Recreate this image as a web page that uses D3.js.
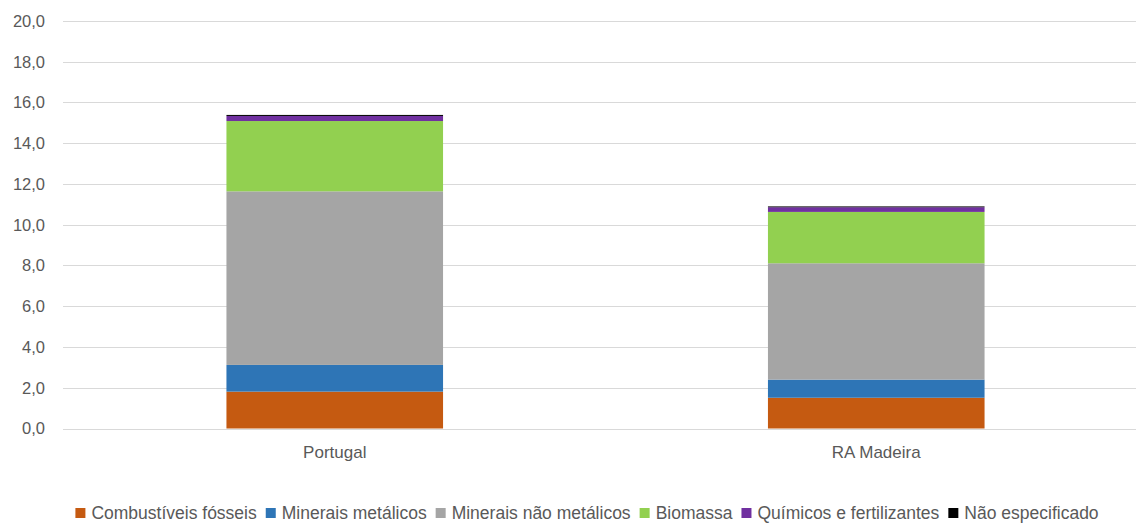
<!DOCTYPE html>
<html>
<head>
<meta charset="utf-8">
<script src="https://cdn.jsdelivr.net/npm/d3@7/dist/d3.min.js"></script>
<style>
  body { margin: 0; background: #fff; }
  svg { display: block; font-family: "Liberation Sans", Arial, sans-serif; }
</style>
</head>
<body>
<div class="chart"></div>
<script>
'use strict';

// Data
const regions = ['Portugal', 'RA Madeira'];
const seriesNames = ['Combustíveis fósseis', 'Minerais metálicos', 'Minerais não metálicos', 'Biomassa', 'Químicos e fertilizantes', 'Não especificado'];
const combustiveis = [1.81, 1.51];
const metalicos = [1.31, 0.89];
const naoMetalicos = [8.52, 5.71];
const biomassa = [3.45, 2.52];
const quimicos = [0.25, 0.23];
const naoEspecificado = [0.05, 0.04];
const yTicks = [0, 2, 4, 6, 8, 10, 12, 14, 16, 18, 20];

const colors = ['#C55A11', '#2E75B6', '#A5A5A5', '#92D050', '#7030A0', '#000000'];

// Initialize
const w = 1136;
const h = 524;

const svg = d3.select('.chart')
              .append('svg')
              .attr('width', w)
              .attr('height', h);

const table = regions.map((r, i) => ({
  region: r,
  [seriesNames[0]]: combustiveis[i],
  [seriesNames[1]]: metalicos[i],
  [seriesNames[2]]: naoMetalicos[i],
  [seriesNames[3]]: biomassa[i],
  [seriesNames[4]]: quimicos[i],
  [seriesNames[5]]: naoEspecificado[i]
}));

const stacked = d3.stack().keys(seriesNames)(table);

// Scales
const xScale = d3.scaleBand()
                .domain(regions)
                .range([64, 1147])
                .paddingInner(0.6)
                .paddingOuter(0.3);

const yScale = d3.scaleLinear()
                .domain([0, 20])
                .range([428.5, 21]);

// Gridlines
svg.append('g')
  .selectAll('line')
  .data(yTicks)
  .enter()
  .append('line')
  .attr('x1', 63)
  .attr('x2', w)
  .attr('y1', d => Math.round(yScale(d)) + 0.5)
  .attr('y2', d => Math.round(yScale(d)) + 0.5)
  .attr('stroke', '#d9d9d9')
  .attr('stroke-width', 1);

// Y axis labels
const yAxis = d3.axisLeft(yScale)
                .tickValues(yTicks)
                .tickSize(0)
                .tickPadding(0)
                .tickFormat(d => d3.format('.1f')(d).replace('.', ','));

const yG = svg.append('g')
  .attr('transform', 'translate(45, 0)')
  .call(yAxis);
yG.select('.domain').remove();
yG.selectAll('text')
  .attr('fill', '#595959')
  .attr('font-family', '"Liberation Sans", Arial, sans-serif')
  .attr('font-size', 16.5);

// Bars
svg.append('g')
  .selectAll('g')
  .data(stacked)
  .enter()
  .append('g')
  .attr('fill', (d, i) => colors[i])
  .selectAll('rect')
  .data(d => d)
  .enter()
  .append('rect')
  .attr('x', d => xScale(d.data.region))
  .attr('width', xScale.bandwidth())
  .attr('y', d => yScale(d[1]))
  .attr('height', d => yScale(d[0]) - yScale(d[1]));

// X axis labels
const xAxis = d3.axisBottom(xScale).tickSize(0).tickPadding(0);
const xG = svg.append('g')
  .attr('transform', 'translate(0, 446)')
  .call(xAxis);
xG.select('.domain').remove();
xG.selectAll('text')
  .attr('fill', '#595959')
  .attr('font-family', '"Liberation Sans", Arial, sans-serif')
  .attr('font-size', 17);

// Legend
const legend = svg.append('g');
const items = legend.selectAll('g')
  .data(seriesNames)
  .enter()
  .append('g');

items.append('rect')
  .attr('width', 10)
  .attr('height', 10)
  .attr('y', -11)
  .attr('fill', (d, i) => colors[i]);

items.append('text')
  .attr('x', 16)
  .attr('y', 0)
  .attr('fill', '#595959')
  .attr('font-size', 17.5)
  .text(d => d);

let offset = 0;
const positions = [];
items.each(function () {
  positions.push(offset);
  const tw = d3.select(this).select('text').node().getComputedTextLength();
  offset += 16 + tw + 9;
});
const totalW = offset - 9;
const startX = (w - totalW) / 2 + 19;
items.attr('transform', (d, i) => `translate(${startX + positions[i]}, 519)`);
</script>
</body>
</html>
